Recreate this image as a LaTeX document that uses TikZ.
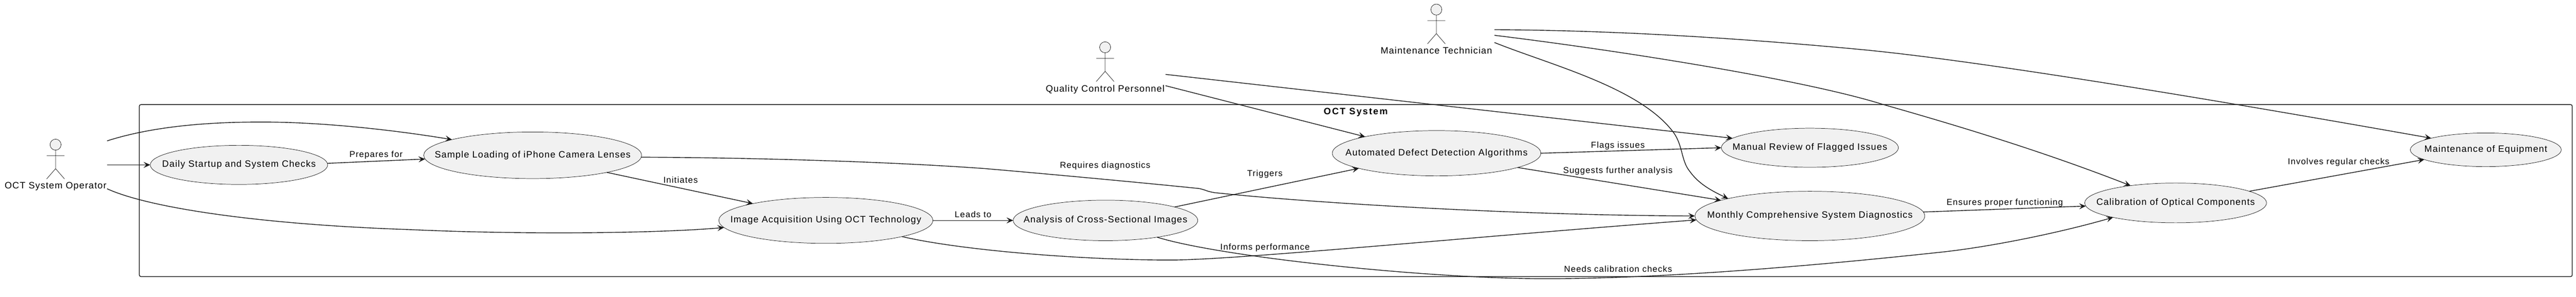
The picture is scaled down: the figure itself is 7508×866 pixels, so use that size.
\documentclass[tikz,border=0pt]{standalone}
\usepackage{fontspec}
\setmainfont{Liberation Sans}
\usetikzlibrary{arrows.meta,shapes.geometric}

\definecolor{umlline}{HTML}{181818}
\definecolor{umlfill}{HTML}{F1F1F1}
\newcommand{\uctext}[1]{\makebox[0pt]{#1}}

\tikzset{
  usecase/.style={ellipse,draw=umlline,fill=umlfill,line width=1.1pt,inner sep=0pt,outer sep=0pt,
    font=\fontsize{27}{32}\selectfont\addfontfeature{LetterSpace=6.5},text height=22pt,text depth=9pt},
  actorhead/.style={circle,draw=umlline,fill=umlfill,line width=1.1pt,inner sep=0pt,outer sep=0pt,minimum size=32pt},
  actorline/.style={draw=umlline,line width=1.1pt},
  actorname/.style={anchor=base,inner sep=0pt,font=\fontsize{27}{32}\selectfont\addfontfeature{LetterSpace=6.5}},
  edgelabel/.style={anchor=base,inner sep=0pt,font=\fontsize{25}{30}\selectfont\addfontfeature{LetterSpace=7}},
  systemframe/.style={draw=umlline,line width=2.1pt,rounded corners=5pt,inner sep=0pt,outer sep=0pt},
  flow/.style={draw=umlline,line width=2.1pt,-{Stealth[length=19.5pt,width=17.4pt,inset=8pt]}}
}

\begin{document}
\begin{tikzpicture}[x=1pt,y=-1pt]
  \useasboundingbox (0,0) rectangle (7508,866);

  \node[systemframe,minimum width=7091pt,minimum height=502pt](System) at (3951.5,556) {};
  \node[anchor=base,inner sep=0pt,font=\fontsize{27}{32}\selectfont\bfseries\addfontfeature{LetterSpace=12}](SystemTitle) at (3951.5,334) {OCT System};

  \node[usecase,minimum width=517pt,minimum height=114pt](Daily) at (696.5,481) {\uctext{Daily Startup and System Checks}};
  \node[usecase,minimum width=635pt,minimum height=136pt](Sample) at (1552.5,453) {\uctext{Sample Loading of iPhone Camera Lenses}};
  \node[usecase,minimum width=624pt,minimum height=134pt](Acquire) at (2407,643) {\uctext{Image Acquisition Using OCT Technology}};
  \node[usecase,minimum width=538pt,minimum height=118pt](Analysis) at (3222,643) {\uctext{Analysis of Cross-Sectional Images}};
  \node[usecase,minimum width=608pt,minimum height=132pt](Defect) at (4187,447) {\uctext{Automated Defect Detection Algorithms}};
  \node[usecase,minimum width=516pt,minimum height=114pt](Review) at (5275,431) {\uctext{Manual Review of Flagged Issues}};
  \node[usecase,minimum width=670pt,minimum height=144pt](Diagnostics) at (5275,630) {\uctext{Monthly Comprehensive System Diagnostics}};
  \node[usecase,minimum width=530pt,minimum height=116pt](Calibration) at (6341,592) {\uctext{Calibration of Optical Components}};
  \node[usecase,minimum width=440pt,minimum height=98pt](Upkeep) at (7245,437) {\uctext{Maintenance of Equipment}};

  % actors
  \node[actorhead](OperHead) at (162,422) {};
  \draw[actorline] (OperHead.south) -- ++(0,54) coordinate (OperHip) -- ++(-26,30) (OperHip) -- ++(26,30)
    (OperHead.center) ++(-26,32) -- ++(52,0);
  \node[actorname](Oper) at (162,551) {OCT System Operator};

  \node[actorhead](QualityHead) at (3221,138) {};
  \draw[actorline] (QualityHead.south) -- ++(0,54) coordinate (QualityHip) -- ++(-26,30) (QualityHip) -- ++(26,30)
    (QualityHead.center) ++(-26,32) -- ++(52,0);
  \node[actorname](Quality) at (3221,267.4) {Quality Control Personnel};

  \node[actorhead](TechHead) at (4186.4,28) {};
  \draw[actorline] (TechHead.south) -- ++(0,54) coordinate (TechHip) -- ++(-26,30) (TechHip) -- ++(26,30)
    (TechHead.center) ++(-26,32) -- ++(52,0);
  \node[actorname](Tech) at (4186.4,157.5) {Maintenance Technician};

  % free ends at the actors
  \coordinate (OperA) at (312,411);
  \coordinate (OperB) at (312,481);
  \coordinate (OperC) at (312,550.6);
  \coordinate (QualityA) at (3397,217);
  \coordinate (QualityB) at (3397,250);
  \coordinate (TechA) at (4355.6,86.7);
  \coordinate (TechB) at (4355.6,103);
  \coordinate (TechC) at (4355.6,124);

  \draw[flow] (OperA) .. controls (462,363) and (640,356) .. (763,356)
    .. controls (950,356) and (1166,382) .. (Sample.169);
  \draw[flow] (OperB) -- (Daily.180);
  \draw[flow] (OperC) .. controls (430,605) and (750,655) .. (1200,670)
    .. controls (1500,684) and (1900,682) .. (Acquire.184.2);

  \draw[flow] (QualityA) -- (Review.173.8);
  \draw[flow] (QualityB) -- (Defect.167.5);

  \draw[flow] (TechA) .. controls (4650,88) and (5000,105) .. (5414.6,143.6)
    .. controls (5700,170) and (6250,255) .. (Upkeep.168.4);
  \draw[flow] (TechB) .. controls (4700,145) and (5250,230) .. (5489,305)
    .. controls (5700,365) and (5950,440) .. (Calibration.159.4);
  \draw[flow] (TechC) .. controls (4520,190) and (4780,255) .. (4878,387)
    .. controls (4905,425) and (4900,470) .. (4925,500)
    .. controls (4950,535) and (4985,555) .. (Diagnostics.168.6);

  \draw[flow] (Daily.1.8) -- (Sample.182);
  \draw[flow] (Sample.347.5) -- (Acquire.167.7);
  \draw[flow] (Sample.359.8) .. controls (2200,460) and (2600,472) .. (2873,492)
    .. controls (3060,508) and (3350,535) .. (3495,550)
    .. controls (3515,554) and (3515,558) .. (3540,562)
    .. controls (3800,590) and (4400,628) .. (Diagnostics.180);
  \draw[flow] (Acquire.0) -- (Analysis.180);
  \draw[flow] (Acquire.348.15) .. controls (2800,730) and (3150,758.6) .. (3412,758.6)
    .. controls (3600,758.6) and (4300,690) .. (Diagnostics.182.8);
  \draw[flow] (Analysis.11.3) -- (Defect.191.6);
  \draw[flow] (Analysis.342.2) .. controls (3550,748) and (4150,813) .. (4505,813)
    .. controls (4800,813) and (5200,785) .. (5663,735)
    .. controls (5800,720) and (6000,680) .. (Calibration.193.7);
  \draw[flow] (Defect.0.85) -- (Review.180.9);
  \draw[flow] (Defect.350.65) -- (Diagnostics.170.2);
  \draw[flow] (Diagnostics.2.2) -- (Calibration.182);
  \draw[flow] (Calibration.9.95) -- (Upkeep.189.7);

  % edge labels
  \node[edgelabel](LabelPrepares) at (1096,458) {Prepares for};
  \node[edgelabel](LabelInitiates) at (1983.6,534.5) {Initiates};
  \node[edgelabel](LabelRequires) at (3221,490.6) {Requires diagnostics};
  \node[edgelabel](LabelLeads) at (2836,635) {Leads to};
  \node[edgelabel](LabelTriggers) at (3686.6,515) {Triggers};
  \node[edgelabel](LabelInforms) at (3687,729) {Informs performance};
  \node[edgelabel](LabelNeeds) at (4716,793) {Needs calibration checks};
  \node[edgelabel](LabelFlags) at (4715.4,431) {Flags issues};
  \node[edgelabel](LabelSuggests) at (4715.4,505) {Suggests further analysis};
  \node[edgelabel](LabelEnsures) at (5843,598) {Ensures proper functioning};
  \node[edgelabel](LabelInvolves) at (6816,479.5) {Involves regular checks};
\end{tikzpicture}
\end{document}
